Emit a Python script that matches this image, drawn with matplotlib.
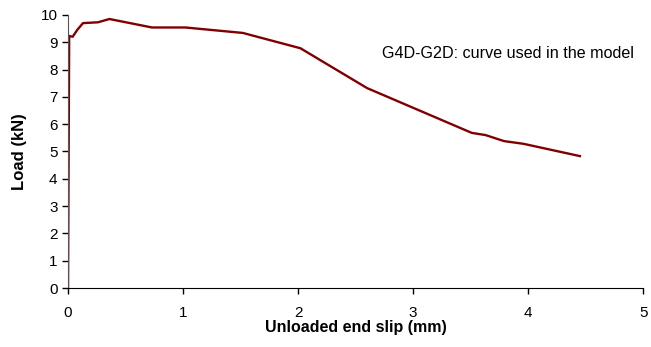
import matplotlib
matplotlib.use("Agg")
import matplotlib.pyplot as plt

plt.rcParams["font.family"] = ["Liberation Sans", "DejaVu Sans"]

# slip (mm) vs load (kN)
slip = [0.0, 0.01, 0.04, 0.08, 0.13, 0.26, 0.36, 0.73, 1.02, 1.52,
        2.02, 2.60, 3.51, 3.63, 3.79, 3.96, 4.45]
load = [0.0, 9.23, 9.20, 9.45, 9.70, 9.73, 9.85, 9.54, 9.54, 9.34,
        8.78, 7.32, 5.68, 5.60, 5.38, 5.28, 4.83]

xticks = [0, 1, 2, 3, 4, 5]
yticks = list(range(0, 11))

fig = plt.figure(figsize=(6.51, 3.47), dpi=100)
ax = fig.add_axes([0.1045, 0.17, 0.8835, 0.787])
ax.plot(slip, load, color="#800000", lw=1.7)

ax.set_xlim(0, 5)
ax.set_ylim(0, 10)
ax.set_xticks(xticks)
ax.set_yticks(yticks)
ax.tick_params(direction="out", length=4, labelsize=11, width=1)
ax.tick_params(axis="x", pad=9)
for s in ("top", "right"):
    ax.spines[s].set_visible(False)
ax.spines["left"].set_color("#555555")

ax.set_xlabel("Unloaded end slip (mm)", fontsize=11.5, fontweight="bold", labelpad=0)
ax.set_ylabel("Load (kN)", fontsize=12, fontweight="bold", labelpad=10)
ax.text(2.73, 8.57, "G4D-G2D: curve used in the model", fontsize=11.6,
        va="center", ha="left")

fig.savefig("out.png", dpi=100)
